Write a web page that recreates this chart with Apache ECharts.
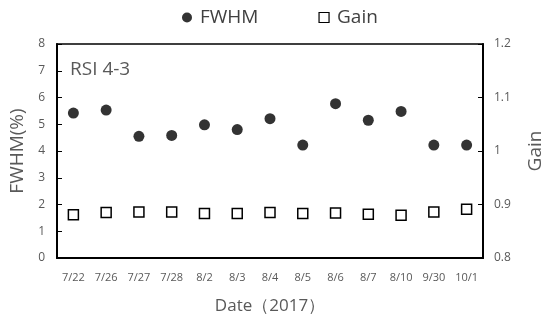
<!DOCTYPE html>
<html>
<head>
<meta charset="utf-8">
<script src="https://cdn.jsdelivr.net/npm/echarts@6/dist/echarts.min.js"></script>
<style>
  html, body { margin: 0; padding: 0; background: #fff; }
  #chart { width: 553px; height: 323px; }
</style>
</head>
<body>
<div id="chart"></div>
<script>
// Measurement dates (2017)
const dates = ['7/22', '7/26', '7/27', '7/28', '8/2', '8/3', '8/4', '8/5', '8/6', '8/7', '8/10', '9/30', '10/1'];
// Energy resolution FWHM (%) per date
const fwhm = [5.42, 5.53, 4.55, 4.58, 4.98, 4.80, 5.21, 4.22, 5.77, 5.15, 5.48, 4.22, 4.22];
// Relative gain per date
const gain = [0.881, 0.885, 0.886, 0.886, 0.883, 0.883, 0.885, 0.883, 0.884, 0.882, 0.880, 0.886, 0.891];

const font = "'Open Sans', 'Liberation Sans', sans-serif";
const grey = '#595959';

const chart = echarts.init(document.getElementById('chart'));
chart.setOption({
  animation: false,
  textStyle: { fontFamily: font },
  legend: {
    top: 3,
    left: 177,
    itemGap: 60,
    itemWidth: 10,
    itemHeight: 10,
    textStyle: { fontSize: 19, color: '#404040', fontFamily: font, padding: [0, 0, 0, 3] },
    data: [
      { name: 'FWHM', icon: 'circle' },
      { name: 'Gain', icon: 'rect', itemStyle: { borderWidth: 1.2 } }
    ]
  },
  grid: {
    left: 56, right: 62, top: 44, bottom: 65,
    show: true, borderColor: '#000', borderWidth: 1.5, backgroundColor: 'transparent'
  },
  title: {
    text: 'RSI 4-3', left: 65, top: 55,
    textStyle: { fontSize: 19, fontWeight: 'normal', color: grey, fontFamily: font }
  },
  xAxis: {
    type: 'category',
    data: dates,
    boundaryGap: true,
    name: 'Date（2017）',
    nameLocation: 'middle',
    nameGap: 40,
    nameTextStyle: { fontSize: 17, color: grey, fontFamily: font },
    axisLine: { lineStyle: { color: '#000', width: 2 } },
    axisTick: { inside: true, length: 5, lineStyle: { color: '#000' } },
    axisLabel: { fontSize: 11, color: grey, margin: 14, interval: 0 },
    splitLine: { show: false }
  },
  yAxis: [
    {
      type: 'value', min: 0, max: 8, interval: 1,
      name: 'FWHM(%)', nameLocation: 'middle', nameGap: 30, nameRotate: 90,
      nameTextStyle: { fontSize: 19, color: grey, fontFamily: font },
      axisLine: { show: true, lineStyle: { color: '#000', width: 2 } },
      axisTick: { show: true, inside: true, length: 5, lineStyle: { color: '#000' } },
      axisLabel: { fontSize: 12, color: grey, margin: 12 },
      splitLine: { show: false }
    },
    {
      type: 'value', min: 0.8, max: 1.2, interval: 0.1,
      name: 'Gain', nameLocation: 'middle', nameGap: 43, nameRotate: 90,
      nameTextStyle: { fontSize: 19, color: grey, fontFamily: font },
      axisLine: { show: true, lineStyle: { color: '#000', width: 2 } },
      axisTick: { show: true, inside: true, length: 5, lineStyle: { color: '#000' } },
      axisLabel: {
        fontSize: 12, color: grey, margin: 11,
        formatter: v => String(parseFloat(v.toFixed(1)))
      },
      splitLine: { show: false }
    }
  ],
  series: [
    {
      name: 'FWHM', type: 'scatter', yAxisIndex: 0,
      data: fwhm, symbol: 'circle', symbolSize: 11,
      itemStyle: { color: '#000' }
    },
    {
      name: 'Gain', type: 'scatter', yAxisIndex: 1,
      data: gain, symbol: 'rect', symbolSize: 10,
      itemStyle: { color: '#fff', borderColor: '#000', borderWidth: 1.5, opacity: 1 }
    }
  ]
});
</script>
</body>
</html>
